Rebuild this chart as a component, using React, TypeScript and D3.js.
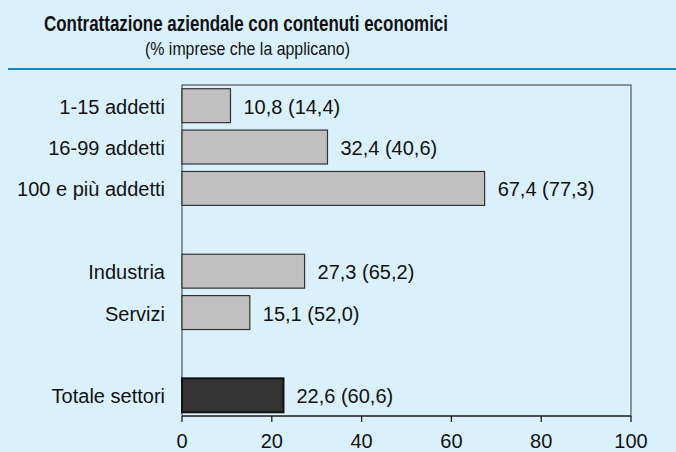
import React, { useEffect, useRef } from 'react';
import * as d3 from 'd3';

const categories = ['1-15 addetti', '16-99 addetti', '100 e più addetti', '', 'Industria', 'Servizi', ' ', 'Totale settori'];
const values = [10.8, 32.4, 67.4, null, 27.3, 15.1, null, 22.6];
const labels = ['10,8 (14,4)', '32,4 (40,6)', '67,4 (77,3)', '', '27,3 (65,2)', '15,1 (52,0)', '', '22,6 (60,6)'];
const ticks = [0, 20, 40, 60, 80, 100];

const App = () => {
    const ref = useRef<SVGSVGElement>(null);

    useEffect(() => {
        const svg = d3.select(ref.current);
        svg.selectAll('*').remove();

        const width = 676;
        const height = 452;
        const font = 'Liberation Sans, Arial, sans-serif';

        svg.attr('width', width).attr('height', height);

        svg.append('rect').attr('width', width).attr('height', height).attr('fill', '#daf1fd');

        // title, squeezed like the original condensed face
        svg.append('text')
           .attr('x', 44).attr('y', 31)
           .attr('textLength', 404).attr('lengthAdjust', 'spacingAndGlyphs')
           .attr('font-family', font).attr('font-weight', 'bold').attr('font-size', 22)
           .attr('fill', '#111')
           .text('Contrattazione aziendale con contenuti economici');

        svg.append('text')
           .attr('x', 145).attr('y', 55)
           .attr('textLength', 205).attr('lengthAdjust', 'spacingAndGlyphs')
           .attr('font-family', font).attr('font-size', 19)
           .attr('fill', '#111')
           .text('(% imprese che la applicano)');

        svg.append('line')
           .attr('x1', 8).attr('x2', width).attr('y1', 69).attr('y2', 69)
           .attr('stroke', '#1b86c9').attr('stroke-width', 2);

        const x = d3.scaleLinear().domain([0, 100]).range([182, 631]);
        const y = d3.scaleBand().domain(categories).range([85, 416]).paddingInner(0.18).paddingOuter(0.09);

        svg.append('rect')
           .attr('x', x(0)).attr('y', 85)
           .attr('width', x(100) - x(0)).attr('height', 416 - 85)
           .attr('fill', 'none').attr('stroke', '#555').attr('stroke-width', 1.2);

        const rows = categories.map((c, i) => ({ c, v: values[i], l: labels[i], i }))
                               .filter(d => d.v !== null);

        svg.selectAll('.bar').data(rows).enter().append('rect')
           .attr('x', x(0))
           .attr('y', d => y(d.c)!)
           .attr('width', d => x(d.v as number) - x(0))
           .attr('height', y.bandwidth())
           .attr('fill', d => d.i === 7 ? '#333333' : '#c0c0c0')
           .attr('stroke', d => d.i === 7 ? '#111' : '#333')
           .attr('stroke-width', d => d.i === 7 ? 2 : 1.2);

        svg.selectAll('.val').data(rows).enter().append('text')
           .attr('x', d => x(d.v as number) + 13)
           .attr('y', d => y(d.c)! + y.bandwidth() / 2 + 8)
           .attr('font-family', font).attr('font-size', 20)
           .attr('fill', '#111')
           .text(d => d.l);

        svg.selectAll('.cat').data(rows).enter().append('text')
           .attr('x', 165)
           .attr('y', d => y(d.c)! + y.bandwidth() / 2 + 8)
           .attr('text-anchor', 'end')
           .attr('font-family', font).attr('font-size', 20)
           .attr('fill', '#111')
           .text(d => d.c);

        // axis
        const axis = svg.append('g');
        axis.append('line')
            .attr('x1', x(0)).attr('x2', x(100)).attr('y1', 416).attr('y2', 416)
            .attr('stroke', '#111').attr('stroke-width', 1.2);
        axis.selectAll('.tick').data(ticks).enter().append('line')
            .attr('x1', d => x(d)).attr('x2', d => x(d))
            .attr('y1', 416).attr('y2', 422)
            .attr('stroke', '#111').attr('stroke-width', 1.2);
        axis.selectAll('.tl').data(ticks).enter().append('text')
            .attr('x', d => x(d)).attr('y', 448)
            .attr('text-anchor', 'middle')
            .attr('font-family', font).attr('font-size', 20)
            .attr('fill', '#111')
            .text(d => d);
    }, []);

    return <svg ref={ref} style={{ position: 'absolute', left: 0, top: 0 }}></svg>;
};

export default App;
